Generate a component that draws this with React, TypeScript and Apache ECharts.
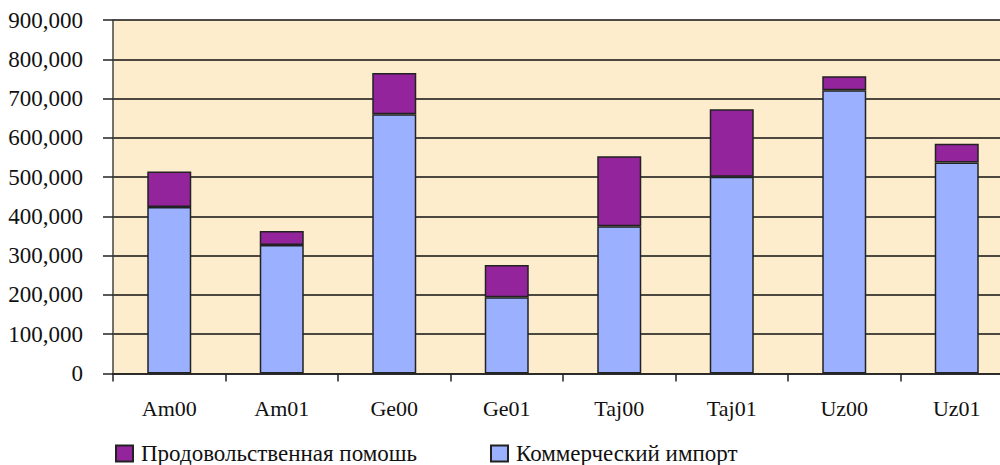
import React, { useEffect, useRef } from "react";
import * as echarts from "echarts";

const categories = ["Am00", "Am01", "Ge00", "Ge01", "Taj00", "Taj01", "Uz00", "Uz01"];
const commercialImport = [424000, 327000, 660000, 194000, 375000, 501000, 721000, 537000];
const foodAid = [90000, 36000, 105000, 82000, 178000, 172000, 36000, 48000];
const seriesNames = ["Продовольственная помошь", "Коммерческий импорт"];

const FONT = "'Liberation Serif', 'Times New Roman', serif";

export default function App() {
  const ref = useRef<HTMLDivElement>(null);
  useEffect(() => {
    document.body.style.margin = "0";
    document.body.style.overflow = "hidden";
    document.documentElement.style.overflow = "hidden";
    const chart = echarts.init(ref.current!, null, { renderer: "svg" });
    chart.setOption({
      animation: false,
      backgroundColor: "#ffffff",
      textStyle: { fontFamily: FONT },
      grid: {
        left: 113,
        right: 0,
        top: 20,
        bottom: 91.5,
        show: true,
        backgroundColor: "#FEEDCC",
        borderWidth: 0,
      },
      legend: {
        data: [seriesNames[0], seriesNames[1]],
        left: 115,
        top: 442,
        padding: 0,
        icon: "rect",
        itemWidth: 17,
        itemHeight: 16,
        itemGap: 73,
        textStyle: { fontFamily: FONT, fontSize: 23, color: "#111", padding: [0, 0, 0, 3] },
      },
      xAxis: {
        type: "category",
        data: categories,
        axisLine: { show: true, lineStyle: { color: "#222", width: 1.5 } },
        axisTick: { show: true, length: 8, lineStyle: { color: "#222", width: 1.5 } },
        axisLabel: { fontFamily: FONT, fontSize: 22, color: "#111", margin: 24 },
      },
      yAxis: {
        type: "value",
        min: 0,
        max: 900000,
        interval: 100000,
        axisLine: { show: true, lineStyle: { color: "#444", width: 1.5 } },
        axisTick: { show: true, length: 10, lineStyle: { color: "#222", width: 1.5 } },
        axisLabel: {
          fontFamily: FONT,
          fontSize: 23,
          color: "#111",
          margin: 30,
          formatter: (v: number) => v.toLocaleString("en-US"),
        },
        splitLine: { show: true, lineStyle: { color: "#111", width: 1.5 } },
      },
      series: [
        {
          name: seriesNames[1],
          type: "bar",
          stack: "total",
          data: commercialImport,
          barWidth: 44,
          itemStyle: { color: "#9BB0FF", borderColor: "#222", borderWidth: 1.5 },
        },
        {
          name: seriesNames[0],
          type: "bar",
          stack: "total",
          data: foodAid,
          barWidth: 44,
          itemStyle: { color: "#93249C", borderColor: "#222", borderWidth: 1.5 },
        },
      ],
    });
    return () => chart.dispose();
  }, []);
  return <div ref={ref} style={{ width: 1013, height: 465 }} />;
}
